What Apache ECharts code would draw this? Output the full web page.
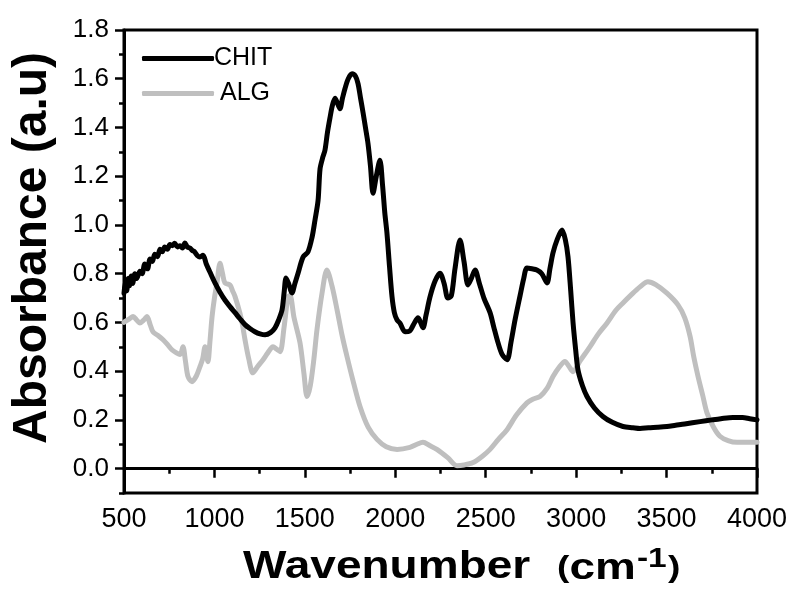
<!DOCTYPE html>
<html>
<head>
<meta charset="utf-8">
<script src="https://cdn.jsdelivr.net/npm/echarts@6/dist/echarts.min.js"></script>
<style>html,body{margin:0;padding:0;background:#fff;}#c{width:796px;height:591px;}</style>
</head>
<body>
<div id="c"></div>
<script>
// ---- data ----
const chitX = [500,508,515,523,530,540,548,560,570,588,600,615,630,644,657,670,685,699,712,725,740,754,767,780,795,810,823,837,850,865,878,890,905,920,937,955,975,1003,1030,1058,1086,1114,1141,1169,1196,1224,1252,1280,1310,1335,1355,1374,1385,1396,1410,1429,1445,1462,1490,1517,1540,1556,1573,1584,1600,1611,1625,1639,1652,1667,1680,1694,1708,1722,1740,1761,1780,1794,1808,1822,1835,1849,1863,1877,1895,1915,1930,1942,1954,1968,1982,1995,2010,2026,2054,2080,2100,2126,2153,2170,2192,2220,2247,2270,2291,2310,2330,2358,2380,2402,2420,2441,2465,2490,2524,2545,2568,2590,2618,2640,2662,2690,2710,2728,2755,2783,2810,2839,2855,2872,2895,2922,2940,2955,2970,2983,2997,3010,3035,3060,3100,3148,3200,3259,3314,3353,3400,3450,3502,3550,3600,3685,3750,3800,3867,3920,3960,4000];
const chitY = [0.72,0.77,0.73,0.78,0.75,0.79,0.76,0.80,0.78,0.81,0.80,0.84,0.82,0.86,0.85,0.88,0.87,0.90,0.89,0.91,0.90,0.92,0.915,0.925,0.91,0.915,0.905,0.926,0.91,0.905,0.895,0.89,0.875,0.868,0.876,0.84,0.807,0.762,0.725,0.692,0.665,0.640,0.615,0.591,0.575,0.562,0.553,0.549,0.558,0.578,0.61,0.652,0.72,0.782,0.76,0.721,0.76,0.801,0.868,0.889,0.95,1.02,1.10,1.23,1.28,1.306,1.38,1.44,1.49,1.52,1.50,1.477,1.52,1.56,1.60,1.62,1.61,1.58,1.52,1.46,1.40,1.335,1.24,1.13,1.20,1.265,1.16,1.05,0.966,0.83,0.705,0.64,0.61,0.597,0.562,0.565,0.59,0.619,0.578,0.63,0.705,0.77,0.802,0.76,0.70,0.71,0.82,0.938,0.85,0.754,0.78,0.815,0.76,0.70,0.64,0.58,0.517,0.47,0.447,0.52,0.61,0.71,0.78,0.823,0.82,0.815,0.80,0.762,0.82,0.885,0.94,0.979,0.94,0.869,0.73,0.598,0.49,0.406,0.34,0.296,0.25,0.214,0.19,0.173,0.168,0.165,0.168,0.17,0.173,0.178,0.183,0.193,0.2,0.205,0.21,0.21,0.205,0.20];

const algX = [500,505,530,550,570,588,610,627,645,660,690,716,740,765,790,810,826,840,854,876,900,920,935,948,964,975,987,1000,1014,1031,1045,1058,1086,1100,1114,1141,1155,1169,1190,1213,1240,1269,1295,1324,1345,1363,1385,1407,1418,1440,1473,1495,1512,1530,1550,1567,1595,1622,1650,1678,1705,1733,1770,1805,1850,1899,1950,2010,2081,2120,2153,2190,2230,2290,2341,2380,2430,2480,2524,2570,2618,2670,2728,2760,2800,2840,2872,2910,2938,2960,2983,3020,3076,3120,3170,3220,3259,3300,3353,3397,3440,3502,3563,3600,3630,3650,3674,3700,3723,3760,3795,3840,3889,3940,3989,4000];
const algY = [0.60,0.603,0.615,0.624,0.61,0.598,0.61,0.624,0.59,0.562,0.545,0.529,0.51,0.488,0.475,0.468,0.50,0.44,0.378,0.357,0.38,0.419,0.45,0.50,0.439,0.52,0.624,0.70,0.762,0.843,0.80,0.762,0.754,0.73,0.706,0.638,0.59,0.529,0.45,0.393,0.42,0.447,0.475,0.50,0.49,0.48,0.58,0.706,0.71,0.62,0.517,0.39,0.296,0.34,0.45,0.57,0.72,0.815,0.75,0.652,0.55,0.46,0.35,0.255,0.17,0.12,0.09,0.079,0.087,0.10,0.108,0.095,0.079,0.045,0.012,0.015,0.025,0.05,0.079,0.12,0.16,0.22,0.27,0.285,0.296,0.33,0.378,0.42,0.44,0.42,0.398,0.44,0.50,0.55,0.597,0.65,0.68,0.71,0.746,0.767,0.755,0.72,0.672,0.62,0.543,0.46,0.378,0.30,0.23,0.17,0.133,0.115,0.108,0.108,0.108,0.108];

const xTicks = [500,1000,1500,2000,2500,3000,3500,4000];
const yTicks = [0.0,0.2,0.4,0.6,0.8,1.0,1.2,1.4,1.6,1.8];
const seriesNames = ['CHIT','ALG'];

function pairs(xs, ys){ return xs.map((x,i)=>[x, ys[i]]); }

const FONT = 'Liberation Sans, Arial, sans-serif';
const chart = echarts.init(document.getElementById('c'), null, {renderer:'canvas'});
chart.setOption({
  animation:false,
  backgroundColor:'#fff',
  grid:{left:124,right:39,top:30,bottom:98,show:true,borderColor:'#000',borderWidth:3,backgroundColor:'transparent'},
  legend:{
    left:137, top:41, orient:'vertical', itemGap:10,
    icon:'roundRect', itemWidth:72, itemHeight:5,
    textStyle:{fontFamily:FONT,fontSize:25,color:'#000'},
    data:[{name:seriesNames[0],textStyle:{padding:[0,0,0,-5]}},{name:seriesNames[1],textStyle:{padding:[0,0,0,1]}}]
  },
  xAxis:{
    type:'value', min:500, max:4000, interval:500,
    axisLine:{show:true,lineStyle:{color:'#000',width:3}},
    axisTick:{show:true,length:9,lineStyle:{color:'#000',width:2.5}},
    minorTick:{show:true,splitNumber:2,length:5,lineStyle:{color:'#000',width:2.5}},
    splitLine:{show:false},
    axisLabel:{fontFamily:FONT,fontSize:27,color:'#000',margin:13,
      customValues:xTicks, formatter:v=>String(v)}
  },
  yAxis:[{
    type:'value', min:-0.1, max:1.8, interval:0.1,
    axisLine:{show:true,lineStyle:{color:'#000',width:3}},
    axisTick:{show:true,length:5,lineStyle:{color:'#000',width:2.5}},
    axisLabel:{show:false},
    splitLine:{show:false}
  },{
    type:'value', min:-0.1, max:1.8, position:'left',
    axisLine:{show:false},
    axisTick:{show:true,length:9,customValues:yTicks,lineStyle:{color:'#000',width:2.5}},
    axisLabel:{show:true,customValues:yTicks,fontFamily:FONT,fontSize:26,color:'#000',margin:15,
      formatter:v=>v.toFixed(1)},
    splitLine:{show:false}
  }],
  graphic:[
    {type:'text', x:33, y:248, rotation:Math.PI/2,
     style:{text:'Absorbance (a.u)', fontFamily:FONT, fontWeight:'bold', fontSize:48, fill:'#000', align:'center', verticalAlign:'middle'}},
    {type:'text', x:243, y:567, scaleX:1.18,
     style:{text:'Wavenumber', align:'left', verticalAlign:'middle',
       fontFamily:FONT,fontWeight:'bold',fontSize:39,fill:'#000'}},
    {type:'text', x:557, y:569, scaleX:1.24,
     style:{text:'{b|(}{c|cm}{d|-1}{b|)}', align:'left', verticalAlign:'middle',
       rich:{
         b:{fontFamily:FONT,fontWeight:'bold',fontSize:30,fill:'#000'},
         c:{fontFamily:FONT,fontWeight:'bold',fontSize:37,fill:'#000'},
         d:{fontFamily:FONT,fontWeight:'bold',fontSize:27,fill:'#000',verticalAlign:'top',padding:[0,1,18,1]}
       }}}
  ],
  series:[
    {name:seriesNames[0], type:'line', data:pairs(chitX,chitY), showSymbol:false, smooth:0.3,
     lineStyle:{color:'#000',width:5,cap:'round',join:'round'}, itemStyle:{color:'#000'}, z:3},
    {name:seriesNames[1], type:'line', data:pairs(algX,algY), showSymbol:false, smooth:0.3,
     lineStyle:{color:'#bfbfbf',width:5,cap:'round',join:'round'}, itemStyle:{color:'#bfbfbf'}, z:2}
  ]
});
</script>
</body>
</html>
